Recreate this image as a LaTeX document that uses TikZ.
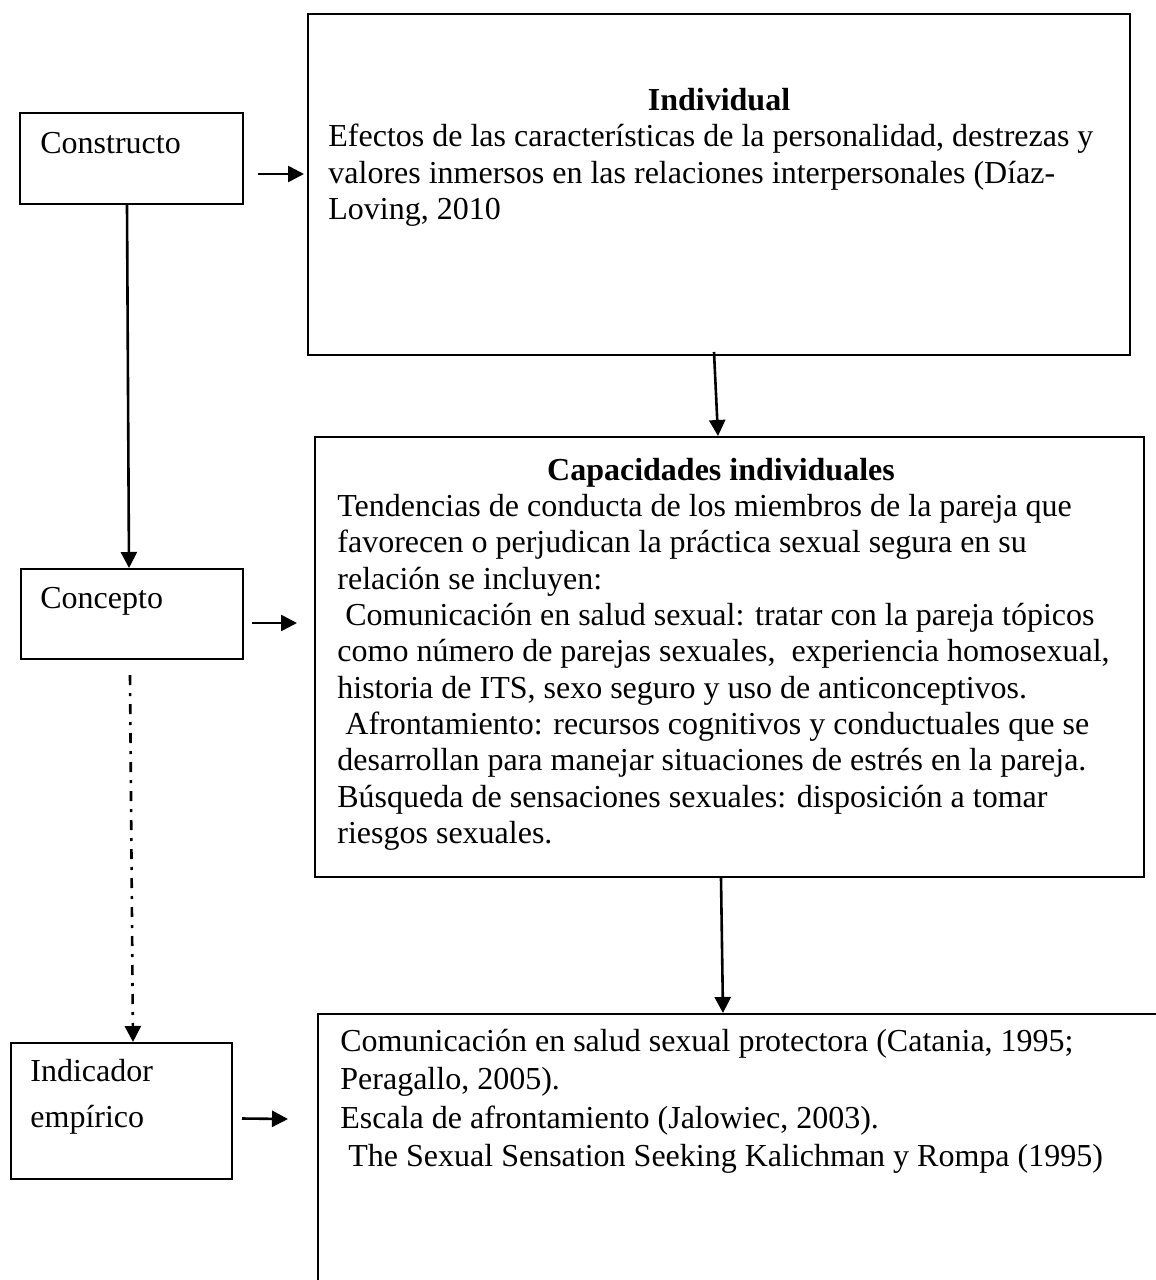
\documentclass[tikz,border=0pt]{standalone}
\usepackage{fontspec}
\setmainfont{Liberation Serif}
\usetikzlibrary{arrows.meta}
\usetikzlibrary{positioning}

\tikzset{
  box/.style={draw, line width=1pt, inner sep=0pt, anchor=north west},
  txt/.style={inner sep=0pt, anchor=north west, align=left, font=\fontsize{16}{18.15}\selectfont},
  lbl/.style={inner sep=0pt, anchor=base west, font=\fontsize{16}{18.15}\selectfont},
  ttl/.style={inner sep=0pt, anchor=base, font=\fontsize{16}{18.15}\selectfont\bfseries},
  arr/.style={-{Triangle[length=8pt,width=8pt]}, line width=1.3pt},
}

\begin{document}
\begin{tikzpicture}[x=0.5pt,y=-0.5pt]
\useasboundingbox (0,0) rectangle (1156,1280);
\clip (0,0) rectangle (1156,1280);

\node (A) [box, minimum width=111.5pt, minimum height=45.5pt] at (19,112) {};
\node (B) [box, minimum width=411pt, minimum height=170.5pt] at (307,13) {};
\node (C) [box, minimum width=111pt, minimum height=45pt] at (20,568) {};
\node (D) [box, minimum width=414.5pt, minimum height=220pt] at (314,436) {};
\node (E) [box, minimum width=110.5pt, minimum height=68pt] at (10,1042) {};
\node (F) [box, minimum width=450pt, minimum height=150pt] at (317,1013) {};

%
\node (A1) [lbl] at (40,153) {Constructo};
\node (C1) [lbl] at (40,608) {Concepto};
\node (E1) [txt] at (30,1059) {Indicador\\[4.85pt]empírico};

\node (B1) [ttl] at (719,110) {Individual};
\node (B2) [txt, below right=55.5pt and 10.5pt of B.north west] {Efectos de las características de la personalidad, destrezas y\\
valores inmersos en las relaciones interpersonales (Díaz-\\
Loving, 2010};

\node (D1) [ttl] at (721,480) {Capacidades individuales};
\node (D2) [txt, below right=29pt and 11.5pt of D.north west] {Tendencias de conducta de los miembros de la pareja que\\
favorecen o perjudican la práctica sexual segura en su\\
relación se incluyen:\\
\ Comunicación en salud sexual: tratar con la pareja tópicos\\
como número de parejas sexuales,\ \ experiencia homosexual,\\
historia de ITS, sexo seguro y uso de anticonceptivos.\\
\ Afrontamiento: recursos cognitivos y conductuales que se\\
desarrollan para manejar situaciones de estrés en la pareja.\\
Búsqueda de sensaciones sexuales: disposición a tomar\\
riesgos sexuales.};

\node (F1) [txt, below right=8pt and 11.5pt of F.north west] {Comunicación en salud sexual protectora (Catania, 1995;\\[1pt]
Peragallo, 2005).\\[1pt]
Escala de afrontamiento (Jalowiec, 2003).\\[1pt]
\ The Sexual Sensation Seeking Kalichman y Rompa (1995)};

%
\draw [arr] ([xshift=7pt,yshift=-7.75pt]A.east) -- ([xshift=-1.5pt,yshift=5.25pt]B.west);
\draw [arr] ([xshift=-2.25pt]A.south) -- ([xshift=-1.5pt]C.north);
\draw [arr] ([xshift=-2.5pt,yshift=2pt]B.south) -- ([xshift=-5.75pt]D.north);
\draw [arr] ([xshift=4pt,yshift=-4.5pt]C.east) -- ([xshift=-8.5pt,yshift=17pt]D.west);
\draw [arr, dash pattern=on 5pt off 4pt on 1.5pt off 4pt] ([xshift=-1pt,yshift=-7.5pt]C.south) -- ([xshift=5.75pt]E.north);
\draw [arr] ([xshift=-4.25pt]D.south) -- ([xshift=-22.5pt]F.north);
\draw [arr] ([xshift=4.5pt,yshift=-3.75pt]E.east) -- ([xshift=-14.5pt,yshift=22.5pt]F.west);
\end{tikzpicture}
\end{document}
